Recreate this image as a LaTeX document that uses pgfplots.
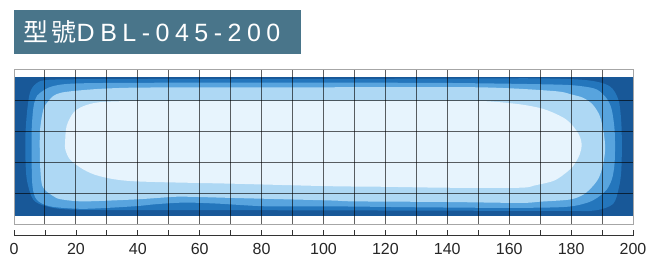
\documentclass[border=0pt]{standalone}
\usepackage{fontspec}
\setmainfont{Liberation Sans}
\newfontfamily\titlefont[LetterSpace=22]{Liberation Sans}
\newfontfamily\titlecjk[LetterSpace=14]{Noto Sans CJK TC}
\usepackage{pgfplots}
\pgfplotsset{compat=1.18}
\definecolor{cA}{RGB}{24,88,152}
\definecolor{cB}{RGB}{36,118,188}
\definecolor{cC}{RGB}{88,164,222}
\definecolor{cD}{RGB}{174,216,244}
\definecolor{cE}{RGB}{231,244,253}
\definecolor{titlebg}{RGB}{73,117,138}
\begin{document}
\begin{tikzpicture}
\path[use as bounding box] (0pt,0pt) rectangle (653pt,258pt);
% title
\fill[titlebg] (14pt,204pt) rectangle (301pt,248pt);
\node[anchor=base west, text=white, inner sep=0pt, font=\fontsize{25}{26}\selectfont] at (23pt,216.5pt) {{\titlecjk 型號}{\titlefont DBL-045-200}};
% map
\begin{axis}[
  at={(14pt,34pt)}, anchor=south west, scale only axis,
  width=619pt, height=155pt,
  xmin=0, xmax=200, ymin=-25, ymax=25,
  xtick={0,10,...,200}, ytick={-15,-5,5,15},
  xticklabels={}, yticklabels={},
  major tick length=0pt,
  grid=major,
  major grid style={black, opacity=0.62, line width=0.9pt},
  axis line style={black!35, line width=0.7pt},
  axis on top,
]
\addplot[fill=cA, draw=none] coordinates {(0,-22.5) (200,-22.5) (200,22.5) (0,22.5)} -- cycle;
\addplot[fill=cB, draw=none, smooth] coordinates {
(100,21.8) (140,21.9) (169,22.0) (185,21.4) (192.4,19.5) (195.3,15) (196.2,8) (196.4,0) (196.2,-8) (195.5,-13) (193.6,-18.5) (188,-20.6) (180,-20.8) (140,-20.7) (100,-20.6) (60,-20.5) (20.3,-20.4) (10.6,-19.3) (6.2,-17.1) (4.2,-11) (3.7,-4) (3.7,4) (4.3,12) (5.2,17.5) (7,20.2) (10,21.4) (20,21.7) (60,21.8) (100,21.8)} -- cycle;
\addplot[fill=cC, draw=none, smooth] coordinates {
(100,20.6) (140,20.5) (174.3,20) (183,19.5) (188.3,18.4) (191.5,15.5) (193.1,12) (194,6) (194.2,0) (194,-6) (193.2,-10.5) (191.5,-13.9) (188.5,-16.5) (185,-18.2) (178,-19.5) (160,-19.8) (130,-19.6) (102,-19.3) (81.6,-19.3) (65.4,-18.4) (55,-18.1) (46,-18.6) (38.6,-19.3) (22.4,-20.1) (11.6,-19.3) (7.3,-17.1) (6,-13) (5.7,-5) (5.7,5) (6.2,12) (7,15.5) (8.4,17.3) (12.7,19.5) (22.4,20.4) (60,20.6) (100,20.6)} -- cycle;
\addplot[fill=cD, draw=none, smooth] coordinates {
(100,19.1) (150,19.1) (174.3,17.9) (180,16.8) (183.9,15.7) (187,13.5) (189.3,9.8) (190.6,4) (191,-1) (190.3,-6) (189,-10) (187,-12.8) (184,-15.5) (179.6,-17.1) (170,-17.8) (163.5,-18.2) (140,-17.9) (110,-17.7) (102,-17.4) (70.8,-16.6) (60,-16.3) (52.6,-16.2) (45,-16.7) (38.6,-17.1) (22.4,-17.7) (15,-17) (12.7,-16) (10,-14) (8.9,-11.7) (8.4,-5) (8.4,5) (9.5,12) (11,14.5) (12.7,16.3) (15,17.3) (19.2,17.9) (27.8,18.6) (40,19) (70,19.1) (100,19.1)} -- cycle;
\addplot[fill=cE, draw=none, smooth] coordinates {
(100,14.8) (140,14.8) (152.7,14.6) (163.5,13.6) (170,12.4) (174,11) (178,9) (180.6,6.6) (182.7,3.5) (183.4,0.6) (182.8,-2.5) (180.6,-6.4) (177,-9.5) (174,-11.2) (168,-12.6) (163.5,-13.3) (140,-13.3) (120,-13) (102,-12.8) (70.8,-12) (38.6,-11.2) (27.8,-9.6) (22.4,-7.4) (18.1,-4.2) (16.6,-1) (16.5,1.2) (17,6.6) (19.2,10.9) (22.4,13) (27.8,14.3) (40,14.7) (70,14.8) (100,14.8)} -- cycle;
\end{axis}
% bottom scale
\begin{axis}[
  at={(14pt,22.5pt)}, anchor=south west, scale only axis,
  width=619pt, height=1pt,
  xmin=0, xmax=200, ymin=0, ymax=1,
  hide y axis,
  axis x line=bottom,
  x axis line style={-, draw=black!80, line width=0.8pt},
  xtick={0,20,...,200}, minor xtick={10,30,...,190},
  tick align=inside,
  major tick length=6pt, minor tick length=6pt,
  tick style={black!80, line width=0.8pt},
  /pgf/number format/assume math mode=true,
  xticklabel style={font=\fontsize{16}{16}\selectfont, text=black!85, yshift=-4pt},
]
\addplot[draw=none] coordinates {(0,0) (200,0)};
\end{axis}
\end{tikzpicture}
\end{document}
